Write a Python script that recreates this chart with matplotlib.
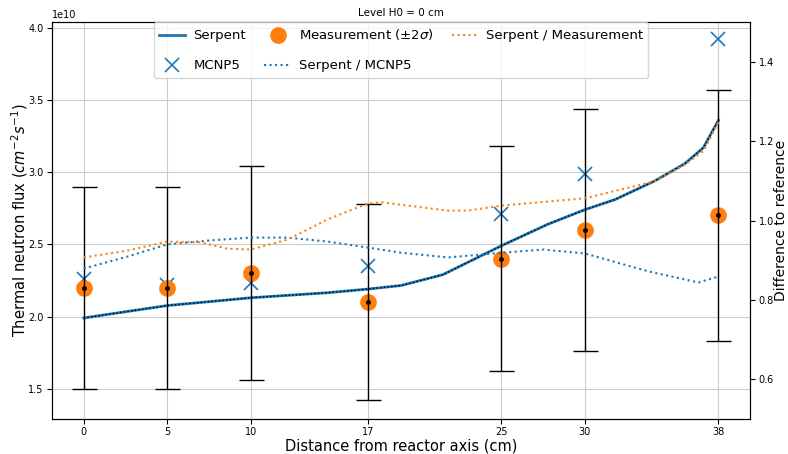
import numpy as np
import matplotlib
matplotlib.use('Agg')
import matplotlib.pyplot as plt

# measurement positions (cm from reactor axis)
pos = [0, 5, 10, 17, 25, 30, 38]
meas = [2.2e10, 2.2e10, 2.3e10, 2.1e10, 2.4e10, 2.6e10, 2.7e10]
meas_err = [0.70e10, 0.70e10, 0.74e10, 0.68e10, 0.78e10, 0.84e10, 0.87e10]  # 2 sigma
mcnp = [2.26e10, 2.22e10, 2.23e10, 2.35e10, 2.71e10, 2.99e10, 3.92e10]

# Serpent flux curve
serp_x = [0, 2.6, 5, 10, 14.6, 17, 19, 21.5, 25, 27.8, 30, 31.8, 34.2, 36, 37.1, 38]
serp = [1.99e10, 2.035e10, 2.076e10, 2.13e10, 2.165e10, 2.19e10, 2.215e10, 2.29e10,
        2.49e10, 2.64e10, 2.74e10, 2.81e10, 2.94e10, 3.06e10, 3.17e10, 3.36e10]

# ratios
rm_x = [0, 2.6, 5, 7, 8.6, 10, 12.2, 14.6, 17, 17.8, 21.8, 23, 25.1, 30, 34.2, 36, 37.1, 38]
rm = [0.907, 0.924, 0.947, 0.945, 0.929, 0.927, 0.952, 1.003, 1.043, 1.046,
      1.025, 1.025, 1.038, 1.056, 1.099, 1.141, 1.175, 1.248]
rc_x = [0, 2.6, 5, 7.6, 10, 12.2, 14.6, 17, 19, 21.8, 25.1, 27.5, 30, 33.8, 36.8, 38]
rc = [0.879, 0.909, 0.940, 0.950, 0.957, 0.957, 0.947, 0.932, 0.919, 0.907,
      0.919, 0.927, 0.917, 0.872, 0.844, 0.859]

fig = plt.figure(figsize=(7.88, 4.54), dpi=100)
ax = fig.add_axes([0.066, 0.077, 0.886, 0.8745])
ax2 = ax.twinx()

l1, = ax.plot(serp_x, serp, '-', color='C0', lw=2, label='Serpent')
ax.plot(serp_x, serp, ':', color='k', lw=1)
l2, = ax.plot(pos, mcnp, 'x', color='C0', ms=10, mew=1.2, label='MCNP5')
l3, = ax.plot(pos, meas, 'o', color='C1', ms=11, label=r'Measurement ($\pm 2\sigma$)')
ax.errorbar(pos, meas, yerr=meas_err, fmt='k.', ms=5, lw=1, capsize=9, capthick=1)
l4, = ax2.plot(rc_x, rc, ':', color='C0', lw=1.5, label='Serpent / MCNP5')
l5, = ax2.plot(rm_x, rm, ':', color='C1', lw=1.5, label='Serpent / Measurement')

ax.set_ylim(1.29e10, 4.04e10)
ax2.set_ylim(0.5, 1.5)
ax.set_xticks(pos)
ax.grid(True, color='#cccccc')
ax.tick_params(labelsize=7, pad=2.5)
ax2.tick_params(labelsize=7, pad=2.5)
ax.yaxis.get_offset_text().set_fontsize(7)
ax.set_xlabel('Distance from reactor axis (cm)', fontsize=10.5, labelpad=1)
ax.set_ylabel(r'Thermal neutron flux ($cm^{-2}s^{-1}$)', fontsize=10.5, labelpad=-1)
ax2.set_ylabel('Difference to reference', fontsize=10, labelpad=0)
ax.set_title('Level H0 = 0 cm', fontsize=7.5, pad=4)

ax2.legend([l1, l2, l3, l4, l5], [h.get_label() for h in [l1, l2, l3, l4, l5]],
           loc='upper center', bbox_to_anchor=(0.5, 1.0), borderaxespad=0,
           ncol=3, fontsize=9.5, labelspacing=1.3, columnspacing=1.4,
           handletextpad=0.6)

fig.savefig('out.png', dpi=100)
